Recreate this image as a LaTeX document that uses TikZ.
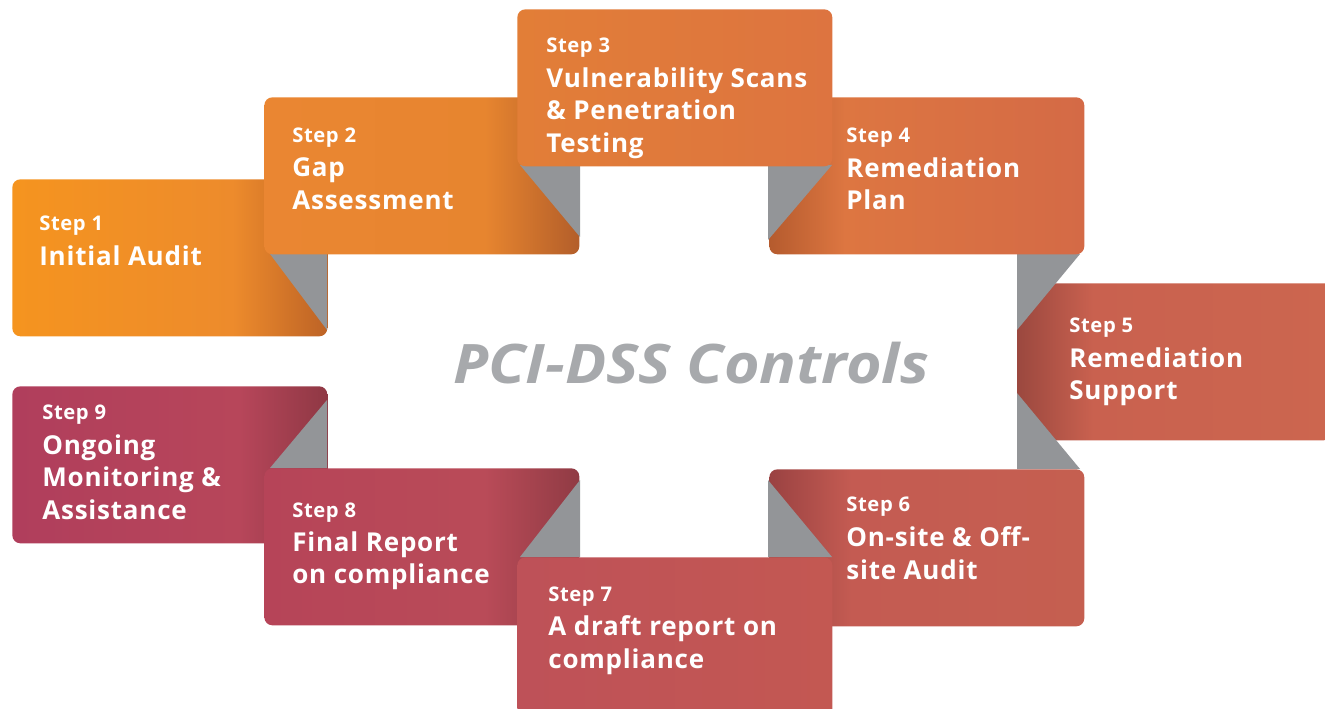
\documentclass[tikz,border=0pt]{standalone}
\usepackage{fontspec}
\setmainfont{Open Sans}
\usetikzlibrary{positioning}

\definecolor{foldgrey}{HTML}{939598}
\definecolor{titlegrey}{HTML}{A7A9AC}

% one shading per step, the box spans 25bp..75bp
\pgfdeclarehorizontalshading{shadeone}{100bp}{color(0bp)=(rgb,255:red,245;green,148;blue,31); color(25bp)=(rgb,255:red,245;green,148;blue,31); color(60bp)=(rgb,255:red,237;green,139;blue,44); color(75bp)=(rgb,255:red,189;green,99;blue,38); color(100bp)=(rgb,255:red,189;green,99;blue,38)}
\pgfdeclarehorizontalshading{shadetwo}{100bp}{color(0bp)=(rgb,255:red,234;green,134;blue,50); color(25bp)=(rgb,255:red,234;green,134;blue,50); color(60bp)=(rgb,255:red,231;green,133;blue,47); color(75bp)=(rgb,255:red,179;green,94;blue,42); color(100bp)=(rgb,255:red,179;green,94;blue,42)}
\pgfdeclarehorizontalshading{shadethree}{100bp}{color(0bp)=(rgb,255:red,226;green,126;blue,55); color(25bp)=(rgb,255:red,226;green,126;blue,55); color(75bp)=(rgb,255:red,221;green,116;blue,64); color(100bp)=(rgb,255:red,221;green,116;blue,64)}
\pgfdeclarehorizontalshading{shadefour}{100bp}{color(0bp)=(rgb,255:red,181;green,91;blue,46); color(25bp)=(rgb,255:red,181;green,91;blue,46); color(37bp)=(rgb,255:red,221;green,118;blue,65); color(75bp)=(rgb,255:red,212;green,106;blue,70); color(100bp)=(rgb,255:red,212;green,106;blue,70)}
\pgfdeclarehorizontalshading{shadefive}{100bp}{color(0bp)=(rgb,255:red,155;green,72;blue,63); color(25bp)=(rgb,255:red,155;green,72;blue,63); color(37bp)=(rgb,255:red,201;green,97;blue,79); color(75bp)=(rgb,255:red,204;green,102;blue,79); color(100bp)=(rgb,255:red,204;green,102;blue,79)}
\pgfdeclarehorizontalshading{shadesix}{100bp}{color(0bp)=(rgb,255:red,154;green,66;blue,66); color(25bp)=(rgb,255:red,154;green,66;blue,66); color(38bp)=(rgb,255:red,196;green,91;blue,82); color(75bp)=(rgb,255:red,197;green,95;blue,80); color(100bp)=(rgb,255:red,197;green,95;blue,80)}
\pgfdeclarehorizontalshading{shadeseven}{100bp}{color(0bp)=(rgb,255:red,190;green,81;blue,88); color(25bp)=(rgb,255:red,190;green,81;blue,88); color(75bp)=(rgb,255:red,195;green,88;blue,82); color(100bp)=(rgb,255:red,195;green,88;blue,82)}
\pgfdeclarehorizontalshading{shadeeight}{100bp}{color(0bp)=(rgb,255:red,182;green,68;blue,88); color(25bp)=(rgb,255:red,182;green,68;blue,88); color(60bp)=(rgb,255:red,185;green,75;blue,88); color(75bp)=(rgb,255:red,144;green,59;blue,68); color(100bp)=(rgb,255:red,144;green,59;blue,68)}
\pgfdeclarehorizontalshading{shadenine}{100bp}{color(0bp)=(rgb,255:red,176;green,62;blue,92); color(25bp)=(rgb,255:red,176;green,62;blue,92); color(61bp)=(rgb,255:red,183;green,70;blue,90); color(75bp)=(rgb,255:red,143;green,56;blue,68); color(100bp)=(rgb,255:red,143;green,56;blue,68)}

\tikzset{
    stepbox/.style={anchor=north west, shade, rounded corners=0.16cm, minimum width=6.3cm, minimum height=3.14cm, inner sep=0pt},
    fold/.style={fill=foldgrey},
    steplabel/.style={anchor=north west, inner sep=0pt, text=white, font=\bfseries\addfontfeatures{LetterSpace=3}\fontsize{11.5}{13}\selectfont},
    steptitle/.style={anchor=north west, inner sep=0pt, text=white, align=left, font=\bfseries\addfontfeatures{LetterSpace=3}\fontsize{14.8}{18.7}\selectfont}
}

\begin{document}
\begin{tikzpicture}[x=0.02cm,y=-0.02cm]
    \useasboundingbox (0,0) rectangle (1325,709);

    % top left
    \node[stepbox, shading=shadeone] (s1) at (12,179) {};
    \fill[fold] (270,254) -- (327,254) -- (327,330) -- cycle;
    \node[stepbox, shading=shadetwo] (s2) at (264,97) {};
    \fill[fold] (520,165) -- (580,165) -- (580,237) -- cycle;

    % top right
    \node[stepbox, shading=shadefive] (s5) at (1017,283) {};
    \fill[fold] (1017,254) -- (1080,254) -- (1017,330) -- cycle;
    \node[stepbox, shading=shadefour] (s4) at (769,97) {};
    \fill[fold] (768,165) -- (832,165) -- (768,240) -- cycle;
    \node[stepbox, shading=shadethree] (s3) at (517,9) {};

    % bottom right
    \fill[fold] (1017,393) -- (1017,469) -- (1080,469) -- cycle;
    \node[stepbox, shading=shadesix] (s6) at (769,469) {};
    \fill[fold] (768,480) -- (768,557) -- (832,557) -- cycle;

    % bottom left
    \node[stepbox, shading=shadenine] (s9) at (12,386) {};
    \fill[fold] (327,400) -- (327,468) -- (270,468) -- cycle;
    \node[stepbox, shading=shadeeight] (s8) at (264,468) {};
    \fill[fold] (580,480) -- (580,557) -- (520,557) -- cycle;
    \node[stepbox, shading=shadeseven, minimum height=3.3cm] (s7) at (517,557) {};

    % texts
    \node[steplabel] (l1) at (39,216) {Step 1};
    \node[steptitle] (t1) at (39,245) {Initial Audit};
    \node[steplabel] (l2) at (292,128) {Step 2};
    \node[steptitle] (t2) at (292,157) {Gap\\Assessment};
    \node[steplabel] (l3) at (546,38) {Step 3};
    \node[steptitle] (t3) at (546,67) {Vulnerability Scans\\\& Penetration\\Testing};
    \node[steplabel] (l4) at (846,128) {Step 4};
    \node[steptitle] (t4) at (846,157) {Remediation\\Plan};
    \node[steplabel] (l5) at (1069,318) {Step 5};
    \node[steptitle] (t5) at (1069,347) {Remediation\\Support};
    \node[steplabel] (l6) at (846,497) {Step 6};
    \node[steptitle] (t6) at (846,526) {On-site \& Off-\\site Audit};
    \node[steplabel] (l7) at (548,587) {Step 7};
    \node[steptitle] (t7) at (548,615) {A draft report on\\compliance};
    \node[steplabel] (l8) at (292,503) {Step 8};
    \node[steptitle] (t8) at (292,531) {Final Report\\on compliance};
    \node[steplabel] (l9) at (42,405) {Step 9};
    \node[steptitle] (t9) at (42,434) {Ongoing\\Monitoring \&\\Assistance};

    \node[text=titlegrey, font=\bfseries\itshape\fontsize{31}{36}\selectfont] (ctl) at (691,363) {\scalebox{1.12}[1]{PCI-DSS Controls}};
\end{tikzpicture}
\end{document}
